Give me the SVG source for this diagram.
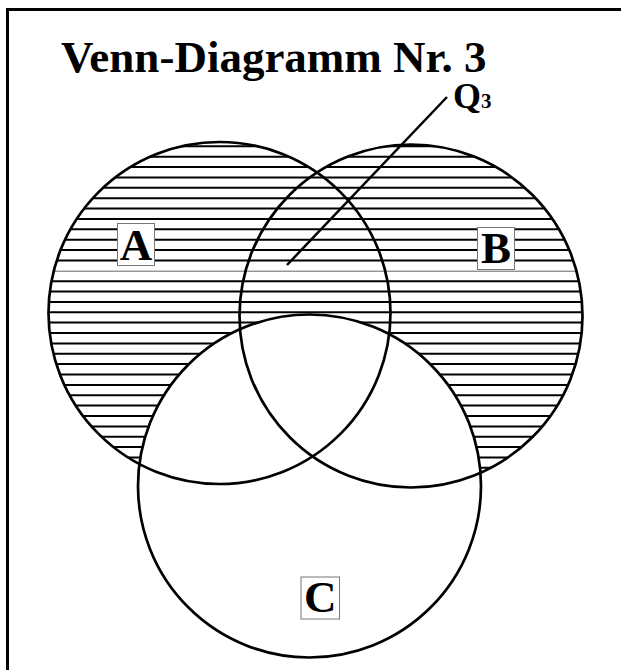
<svg xmlns="http://www.w3.org/2000/svg" width="621" height="670" viewBox="0 0 621 670">
<style>
.ttl{font-family:"Liberation Serif","Times New Roman",serif;font-weight:bold;fill:#000}
.circ{fill:none;stroke:#000;stroke-width:2.7}
.hatch{stroke:#000;stroke-width:2}
.thin{stroke:#666;stroke-width:1}
.lbox{fill:#fff;stroke:#777;stroke-width:1}
</style>
<defs>
<clipPath id="ab">
<circle cx="219.5" cy="313" r="171"/>
<circle cx="411" cy="316" r="171.5"/>
</clipPath>
</defs>
<rect width="621" height="670" fill="#fff"/>
<path d="M7.5,670 V9.5 H621" fill="none" stroke="#000" stroke-width="3"/>
<g id="title"><text class="ttl" x="61" y="72" font-size="45">Venn-Diagramm Nr. 3</text></g>
<g id="hatching" clip-path="url(#ab)">
<line class="hatch" x1="40" y1="146.3" x2="600" y2="146.3"/>
<line class="hatch" x1="40" y1="156.7" x2="600" y2="156.7"/>
<line class="hatch" x1="40" y1="167.1" x2="600" y2="167.1"/>
<line class="hatch" x1="40" y1="177.4" x2="600" y2="177.4"/>
<line class="hatch" x1="40" y1="187.8" x2="600" y2="187.8"/>
<line class="hatch" x1="40" y1="198.2" x2="600" y2="198.2"/>
<line class="hatch" x1="40" y1="208.6" x2="600" y2="208.6"/>
<line class="hatch" x1="40" y1="218.9" x2="600" y2="218.9"/>
<line class="hatch" x1="40" y1="229.3" x2="600" y2="229.3"/>
<line class="hatch" x1="40" y1="239.7" x2="600" y2="239.7"/>
<line class="hatch" x1="40" y1="250.0" x2="600" y2="250.0"/>
<line class="hatch" x1="40" y1="260.4" x2="600" y2="260.4"/>
<line class="thin" x1="40" y1="271.2" x2="600" y2="271.2"/>
<line class="hatch" x1="40" y1="281.2" x2="600" y2="281.2"/>
<line class="hatch" x1="40" y1="291.5" x2="600" y2="291.5"/>
<line class="hatch" x1="40" y1="301.9" x2="600" y2="301.9"/>
<line class="hatch" x1="40" y1="312.3" x2="600" y2="312.3"/>
<line class="hatch" x1="40" y1="322.6" x2="600" y2="322.6"/>
<line class="hatch" x1="40" y1="333.0" x2="600" y2="333.0"/>
<line class="hatch" x1="40" y1="343.4" x2="600" y2="343.4"/>
<line class="hatch" x1="40" y1="353.8" x2="600" y2="353.8"/>
<line class="hatch" x1="40" y1="364.1" x2="600" y2="364.1"/>
<line class="hatch" x1="40" y1="374.5" x2="600" y2="374.5"/>
<line class="hatch" x1="40" y1="384.9" x2="600" y2="384.9"/>
<line class="hatch" x1="40" y1="395.2" x2="600" y2="395.2"/>
<line class="hatch" x1="40" y1="405.6" x2="600" y2="405.6"/>
<line class="hatch" x1="40" y1="416.0" x2="600" y2="416.0"/>
<line class="hatch" x1="40" y1="426.4" x2="600" y2="426.4"/>
<line class="hatch" x1="40" y1="436.7" x2="600" y2="436.7"/>
<line class="hatch" x1="40" y1="447.1" x2="600" y2="447.1"/>
<line class="hatch" x1="40" y1="457.5" x2="600" y2="457.5"/>
<line class="hatch" x1="40" y1="467.8" x2="600" y2="467.8"/>
<line class="hatch" x1="40" y1="478.2" x2="600" y2="478.2"/>
</g>
<circle cx="309.5" cy="486" r="171.5" fill="#fff"/>
<g id="connectors">
<line x1="287" y1="265" x2="447" y2="97" stroke="#000" stroke-width="2.5"/>
</g>
<g id="circleA"><circle class="circ" cx="219.5" cy="313" r="171"/></g>
<g id="circleB"><circle class="circ" cx="411" cy="316" r="171.5"/></g>
<g id="circleC"><circle class="circ" cx="309.5" cy="486" r="171.5"/></g>
<g id="labelA"><rect class="lbox" x="117.5" y="223.5" width="37" height="42"/><text class="ttl" x="136" y="259.5" font-size="45" text-anchor="middle">A</text></g>
<g id="labelB"><rect class="lbox" x="477.5" y="227.5" width="37" height="42"/><text class="ttl" x="496" y="263" font-size="45" text-anchor="middle">B</text></g>
<g id="labelC"><rect class="lbox" x="301" y="577" width="38.5" height="42"/><text class="ttl" x="320.2" y="612" font-size="45" text-anchor="middle">C</text></g>
<g id="labelQ3"><text class="ttl" x="453" y="108" font-size="36">Q<tspan font-size="21">3</tspan></text></g>
</svg>
